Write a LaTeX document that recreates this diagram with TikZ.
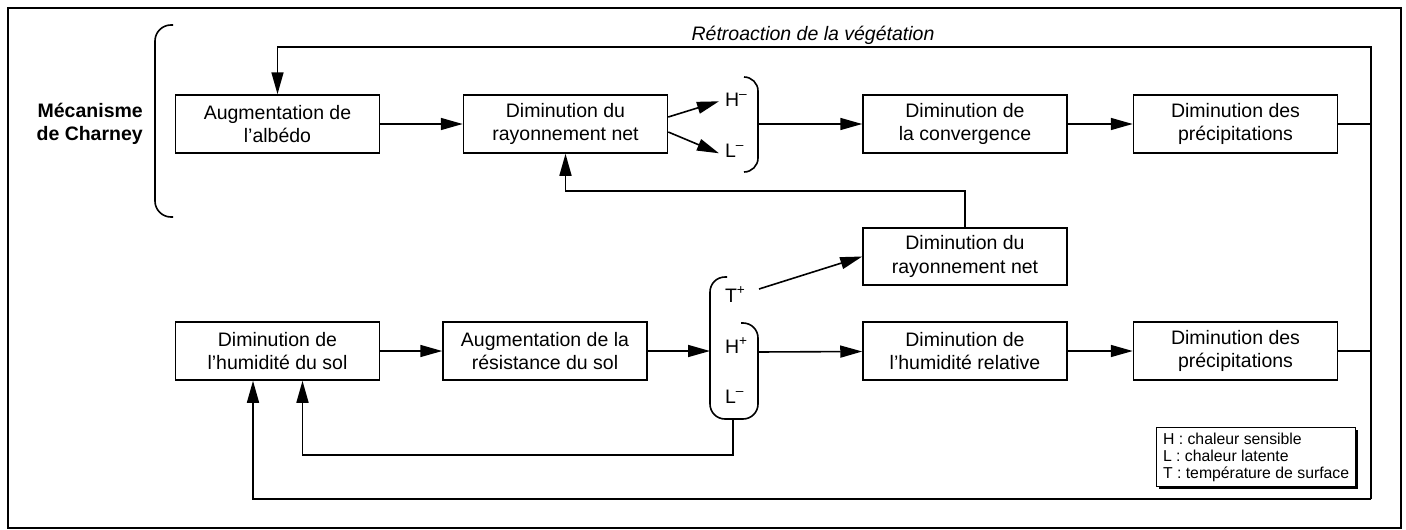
\documentclass[tikz,border=0pt]{standalone}
\usepackage{fontspec}
\setmainfont{Liberation Sans}
\usetikzlibrary{arrows.meta,shadows}
\begin{document}
\begin{tikzpicture}[x=1pt,y=-1pt,
  box/.style={draw, line width=1.5pt, minimum width=204pt, minimum height=58pt, align=center, inner sep=0pt, font=\fontsize{19.5}{23.5}\selectfont},
  conn/.style={line width=1.6pt},
  arr/.style={conn, -{Triangle[length=22pt,width=12pt]}},
  lbl/.style={font=\fontsize{19.5}{23.5}\selectfont, inner sep=0pt, outer sep=0pt},
  brk/.style={line width=1.6pt}]
\useasboundingbox (0,0) rectangle (1406,530);
\draw[line width=1.2pt] (8,8) rectangle (1401,528);

% boxes
\node[box] (alb) at (277.5,124) {Augmentation de\\l’albédo};
\node[box] (ray) at (565.5,124) {Diminution du\\rayonnement net};
\node[box] (conv) at (965,124) {Diminution de\\la convergence};
\node[box] (prec1) at (1235.5,124) {Diminution des\\précipitations};
\node[box, minimum height=57pt] (ray2) at (965,256.5) {Diminution du\\rayonnement net};
\node[box] (hum) at (277.5,351) {Diminution de\\l’humidité du sol};
\node[box] (res) at (545,351) {Augmentation de la\\résistance du sol};
\node[box] (hrel) at (965,351) {Diminution de\\l’humidité relative};
\node[box] (prec2) at (1235.5,351) {Diminution des\\précipitations};

% labels
\node[font=\bfseries\fontsize{19.5}{23.5}\selectfont, align=right, anchor=east, inner sep=0pt] (charney) at (143,124) {Mécanisme\\de Charney};
\node[font=\itshape\fontsize{19.5}{23.5}\selectfont, anchor=base, inner sep=0pt] (retro) at (813,40) {Rétroaction de la végétation};
\node[lbl, anchor=base west] (hm) at (725,106) {H\textsuperscript{–}};
\node[lbl, anchor=base west] (lm) at (725,157) {L\textsuperscript{–}};
\node[lbl, anchor=base west] (tp) at (725,302) {T\textsuperscript{+}};
\node[lbl, anchor=base west] (hp) at (725,353) {H\textsuperscript{+}};
\node[lbl, anchor=base west] (lm2) at (725,403) {L\textsuperscript{–}};

% brackets
\draw[brk, rounded corners=16pt] (173,25) -- (155,25) -- (155,217) -- (173,217);
\draw[brk, rounded corners=14pt] (744,77) -- (758,77) -- (758,172) -- (744,172);
\draw[brk, rounded corners=15pt] (727,277) -- (710,277) -- (710,419) -- (758,419) -- (758,323) -- (741,323);

% coordinates
\coordinate (hlr) at (758,124);
\coordinate (hlr2) at (758,352);
\coordinate (bl) at (710,351);
\coordinate (lb) at (733,419);
\coordinate (tps) at (759,289);
\coordinate (tr) at (1371,47);
\coordinate (br) at (1371,499);

% connectors
\draw[arr] (alb) -- (ray);
\draw[arr] ([yshift=7pt]ray.east) -- ([xshift=-6pt,yshift=-2pt]hm.west);
\draw[arr] ([yshift=-8pt]ray.east) -- ([xshift=-6pt,yshift=-3pt]lm.west);
\draw[arr] (hlr) -- (conv);
\draw[arr] (conv) -- (prec1);
\draw[conn] (prec1.east) -- (prec1.east -| tr);
\draw[conn] (prec2.east) -- (prec2.east -| tr);
\draw[arr] (br) -- (tr) -| (alb.north);
\draw[arr] (ray2.north) -- ++(0,-36) -| (ray.south);
\draw[arr] (hum) -- (res);
\draw[arr] (res) -- (bl);
\draw[arr] (tps) -- (ray2.west);
\draw[arr] (hlr2) -- (hrel);
\draw[arr] (hrel) -- (prec2);
\draw[arr] (lb) -- ++(0,36) -| ([xshift=25pt]hum.south);
\draw[arr] (br) -| ([xshift=-24.5pt]hum.south);

% legend
\node[draw, line width=1.2pt, fill=white, drop shadow={shadow xshift=2.5pt, shadow yshift=-2.5pt, fill=black, opacity=1}, align=left, anchor=north west, inner sep=3pt, minimum width=199pt, minimum height=59pt, font=\fontsize{15.8}{17}\selectfont] (leg) at (1156,427) {H : chaleur sensible\\L : chaleur latente\\T : température de surface};
\end{tikzpicture}
\end{document}
